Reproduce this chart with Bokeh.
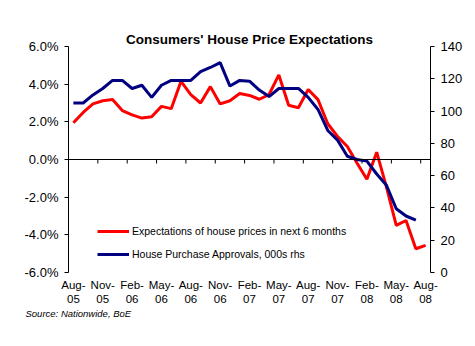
import numpy as np
from bokeh.plotting import figure
from bokeh.models import (Range1d, LinearAxis, FixedTicker, PrintfTickFormatter,
                          Span, Legend, LegendItem, Title)
from bokeh.embed import file_html
from bokeh.resources import INLINE

# ---- data ----
months = ["Aug-05", "Sep-05", "Oct-05", "Nov-05", "Dec-05", "Jan-06", "Feb-06", "Mar-06",
          "Apr-06", "May-06", "Jun-06", "Jul-06", "Aug-06", "Sep-06", "Oct-06", "Nov-06",
          "Dec-06", "Jan-07", "Feb-07", "Mar-07", "Apr-07", "May-07", "Jun-07", "Jul-07",
          "Aug-07", "Sep-07", "Oct-07", "Nov-07", "Dec-07", "Jan-08", "Feb-08", "Mar-08",
          "Apr-08", "May-08", "Jun-08", "Jul-08", "Aug-08"]
expectations = [1.95, 2.5, 2.95, 3.12, 3.18, 2.6, 2.37, 2.2, 2.27, 2.82, 2.7, 4.15, 3.45,
                3.0, 3.87, 2.95, 3.12, 3.5, 3.4, 3.2, 3.45, 4.49, 2.88, 2.75, 3.72, 3.18,
                1.9, 1.22, 0.69, -0.2, -1.05, 0.39, -1.47, -3.5, -3.24, -4.74, -4.56]
approvals = [105, 105, 110, 114, 119, 119, 114, 116, 108.5, 116, 119, 119, 119, 124.5,
             127, 130, 115.5, 119, 118.5, 113, 109, 114, 114, 114, 108.5, 101, 88, 82,
             72, 70, 69, 61, 54, 39.5, 35, 32.5]
left_ticks = [-6, -4, -2, 0, 2, 4, 6]
right_ticks = [0, 20, 40, 60, 80, 100, 120, 140]
label_step = 3

FONT = "Liberation Sans"

n = len(months)
x_exp = np.arange(len(expectations)) + 0.5
x_app = np.arange(len(approvals)) + 0.5

p = figure(width=475, height=346, output_backend="svg", toolbar_location=None,
           x_range=Range1d(0, n), y_range=Range1d(left_ticks[0], left_ticks[-1]),
           min_border_left=68, min_border_right=45, min_border_top=46, min_border_bottom=74)
p.outline_line_color = None
p.xgrid.visible = False
p.ygrid.visible = False
p.background_fill_color = "white"
p.border_fill_color = "white"

# title
p.title.text = "Consumers' House Price Expectations"
p.title.align = "center"
p.title.text_font = FONT
p.title.text_font_size = "13.5px"
p.title.text_font_style = "bold"
p.title.text_color = "black"
p.title.standoff = 0
p.title.offset = -5

# left axis
ya = p.yaxis[0]
ya.ticker = FixedTicker(ticks=left_ticks)
ya.formatter = PrintfTickFormatter(format="%.1f%%")
ya.major_tick_out = 4
ya.major_tick_in = 0
ya.minor_tick_line_color = None
ya.axis_line_color = "black"
ya.major_tick_line_color = "black"
ya.major_label_text_font = FONT
ya.major_label_text_font_size = "13px"
ya.major_label_text_color = "black"
ya.major_label_standoff = 6

# right axis
p.extra_y_ranges = {"rhs": Range1d(right_ticks[0], right_ticks[-1])}
ra = LinearAxis(y_range_name="rhs", ticker=FixedTicker(ticks=right_ticks))
ra.major_tick_out = 4
ra.major_tick_in = 0
ra.minor_tick_line_color = None
ra.axis_line_color = "black"
ra.major_tick_line_color = "black"
ra.major_label_text_font = FONT
ra.major_label_text_font_size = "13px"
ra.major_label_text_color = "black"
ra.major_label_standoff = 6
p.add_layout(ra, "right")

# bottom axes: month line and year line
label_idx = list(range(0, n, label_step))
label_pos = [i + 0.5 for i in label_idx]


def style_label_axis(ax, standoff):
    ax.ticker = FixedTicker(ticks=label_pos)
    ax.axis_line_color = None
    ax.major_tick_line_color = None
    ax.minor_tick_line_color = None
    ax.major_tick_out = 0
    ax.major_tick_in = 0
    ax.major_label_text_font = FONT
    ax.major_label_text_font_size = "11.5px"
    ax.major_label_text_color = "black"
    ax.major_label_standoff = standoff


xa = p.xaxis[0]
style_label_axis(xa, 6)
xa.major_label_overrides = {i + 0.5: months[i].split("-")[0] + "-" for i in label_idx}

xa2 = LinearAxis()
style_label_axis(xa2, 1)
xa2.major_label_overrides = {i + 0.5: months[i].split("-")[1] for i in label_idx}
p.add_layout(xa2, "below")

# zero line with category tick marks
p.add_layout(Span(location=0, dimension="width", line_color="black", line_width=1))
bounds = list(range(label_step, n, label_step))
p.ray(x=bounds, y=[0] * len(bounds), length=4, length_units="screen",
      angle=-np.pi / 2, line_color="black", line_width=1)

# series
r_red = p.line(x_exp, expectations, line_color="#FF0000", line_width=3)
r_blue = p.line(x_app, approvals, line_color="#000080", line_width=3, y_range_name="rhs")

legend = Legend(items=[
    LegendItem(label="Expectations of house prices in next 6 months", renderers=[r_red]),
    LegendItem(label="House Purchase Approvals, 000s rhs", renderers=[r_blue]),
], location=(29, 11))
legend.padding = 0
legend.margin = 0
legend.spacing = 9
legend.glyph_width = 32
legend.glyph_height = 14
legend.label_height = 14
legend.label_standoff = 3
legend.border_line_color = None
legend.background_fill_alpha = 0
legend.label_text_font = FONT
legend.label_text_font_size = "10.5px"
legend.label_text_color = "black"
p.add_layout(legend, "center")

# source note
src = Title(text="Source: Nationwide, BoE", align="left", offset=-43,
            text_font=FONT, text_font_size="9.5px", text_font_style="italic",
            text_color="black", standoff=0)
p.add_layout(src, "below")

open("out.html", "w").write(file_html(p, INLINE))
